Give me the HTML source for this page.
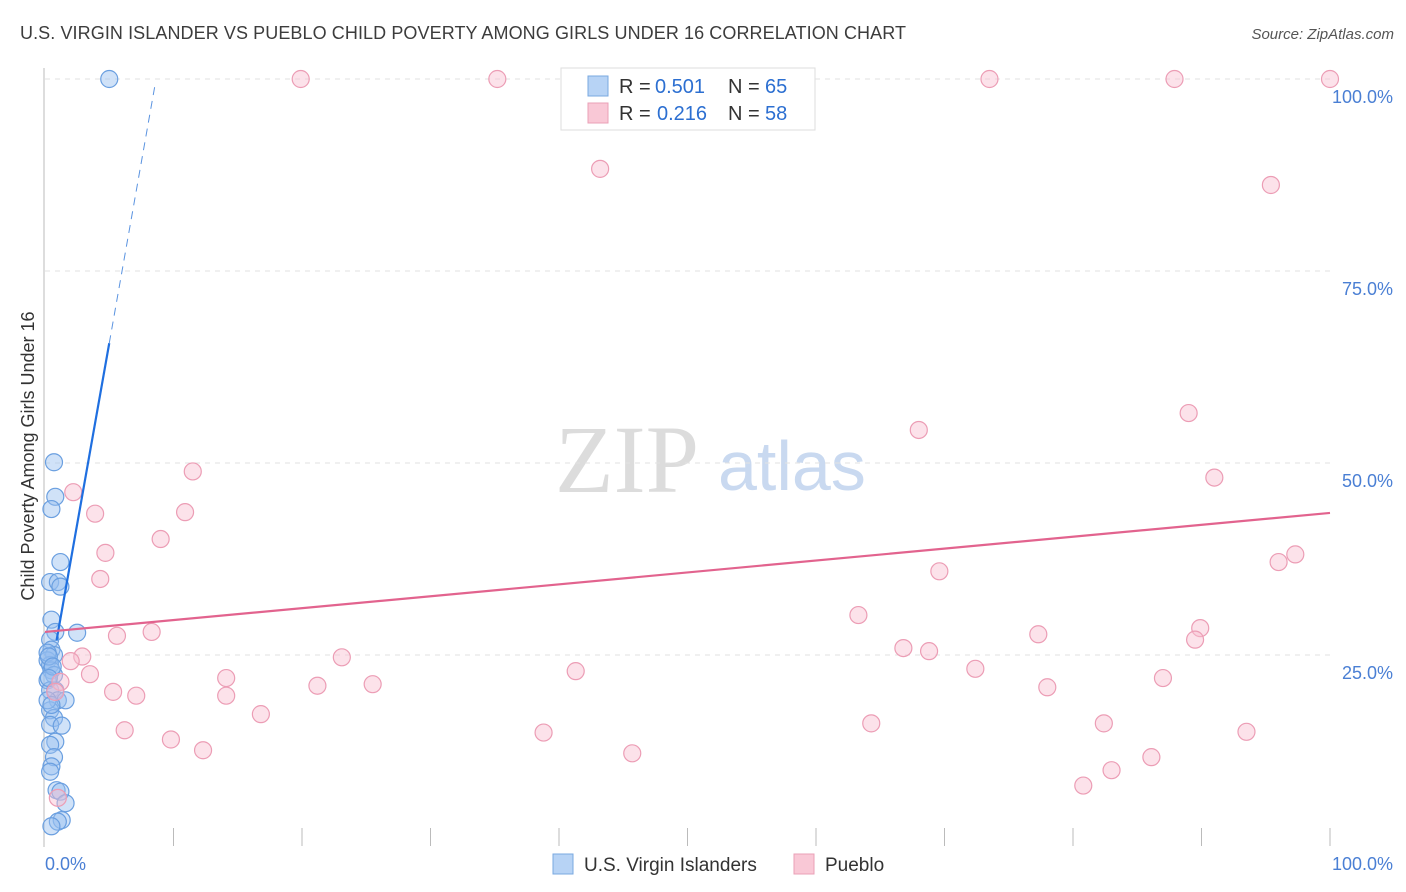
<!DOCTYPE html>
<html><head><meta charset="utf-8"><style>
body{margin:0;background:#fff;font-family:"Liberation Sans",sans-serif;}
svg{display:block}
</style></head><body>
<svg id="chart" width="1406" height="892">
<text x="20" y="39" font-size="18" fill="#3c3c3c" textLength="886">U.S. VIRGIN ISLANDER VS PUEBLO CHILD POVERTY AMONG GIRLS UNDER 16 CORRELATION CHART</text>
<text x="1394" y="39" font-size="15" fill="#555" font-style="italic" text-anchor="end">Source: ZipAtlas.com</text>
<text x="555" y="492" font-size="96" fill="#dcdcdc" font-family="Liberation Serif,serif">ZIP</text>
<text x="718" y="490" font-size="70" fill="#c9d9f0">atlas</text>
<text transform="translate(34,456) rotate(-90)" font-size="18" fill="#333" text-anchor="middle">Child Poverty Among Girls Under 16</text>
<g id="grid"></g><g id="ticks"></g><g id="pts"></g><g id="lines"></g>
<g>
<rect x="561" y="68" width="254" height="62" fill="#fff" stroke="#ddd"/>
<rect x="588" y="76" width="20" height="20" fill="#b7d3f5" stroke="#7aa8e0"/>
<rect x="588" y="103" width="20" height="20" fill="#f9c8d6" stroke="#eaa0b7"/>
<text x="619" y="93" font-size="20" fill="#333">R =</text><text x="655" y="93" font-size="20" fill="#2c6fd1">0.501</text>
<text x="728" y="93" font-size="20" fill="#333">N =</text><text x="765" y="93" font-size="20" fill="#2c6fd1">65</text>
<text x="619" y="120" font-size="20" fill="#333">R =</text><text x="657" y="120" font-size="20" fill="#2c6fd1">0.216</text>
<text x="728" y="120" font-size="20" fill="#333">N =</text><text x="765" y="120" font-size="20" fill="#2c6fd1">58</text>
</g>
<g>
<rect x="553" y="854" width="20" height="20" fill="#b7d3f5" stroke="#7aa8e0"/>
<text x="584" y="871" font-size="19" fill="#333">U.S. Virgin Islanders</text>
<rect x="794" y="854" width="20" height="20" fill="#f9c8d6" stroke="#eaa0b7"/>
<text x="825" y="871" font-size="19" fill="#333">Pueblo</text>
</g>
<text x="45" y="870" font-size="18" fill="#4a7fd4">0.0%</text>
<text x="1393" y="870" font-size="18" fill="#4a7fd4" text-anchor="end">100.0%</text>
</svg>
<script>
const yTicks=[100,75,50,25];
const blueX=[5,0.7,0.8,0.5,1.2,0.4,1,1.2,0.5,0.8,2.5,0.4,0.5,0.7,0.2,0.4,0.5,0.7,0.2,0.4,0.8,1,1.6,0.4,0.7,0.4,1.3,0.8,0.4,0.7,0.5,0.4,0.9,1.2,1.6,1.3,1,0.5,0.2,0.2,0.3,0.6,0.3,0.5];
const blueY=[100,50.1,45.6,44,37.1,34.5,34.5,33.9,29.6,28,27.9,27,25.7,25,24.3,23.7,23,22.4,21.7,20.4,20.4,19.1,19.1,17.8,16.8,15.9,15.8,13.7,13.3,11.7,10.5,9.8,7.4,7.2,5.7,3.5,3.3,2.7,25.3,19.1,24.8,23.5,22,18.5];
const pinkX=[19.9,35.2,73.5,87.9,100,43.2,95.4,89,68,91,11.5,2.2,3.9,10.9,9,4.7,97.3,96,4.3,69.6,63.3,89.9,89.5,77.3,8.3,5.6,2.9,2,66.8,68.8,23.1,41.3,72.4,3.5,14.1,87,21.2,25.5,5.3,7.1,1.2,0.8,14.1,78,82.4,64.3,16.8,38.8,93.5,6.2,9.8,12.3,86.1,45.7,83,80.8,1];
const pinkY=[100,100,100,100,100,88.3,86.2,56.5,54.3,48.1,48.9,46.2,43.4,43.6,40.1,38.3,38.1,37.1,34.9,35.9,30.2,28.5,27,27.7,28,27.5,24.8,24.2,25.9,25.5,24.7,22.9,23.2,22.5,22,22,21,21.2,20.2,19.7,21.5,20.2,19.7,20.8,16.1,16.1,17.3,14.9,15,15.2,14,12.6,11.7,12.2,10,8,6.4];
const blueSlope=9.44, blueIntercept=18.4, blueSolidStart=0.9, blueSolidEnd=5, blueDashEnd=8.6;
const pinkSlope=15.5, pinkIntercept=28;
const X=v=>45+v*12.85, Y=v=>847-v*7.68;
const ns="http://www.w3.org/2000/svg";
function mk(tag,attrs,parent){const e=document.createElementNS(ns,tag);for(const k in attrs)e.setAttribute(k,attrs[k]);document.getElementById(parent).appendChild(e);return e;}
yTicks.forEach(t=>{
 const g=mk('line',{x1:45,x2:1330,y1:Y(t),y2:Y(t),stroke:'#e2e2e2','stroke-dasharray':'5,5'},'grid');
 
 
 const tx=mk('text',{x:1393,y:Y(t)+24,'font-size':18,fill:'#4a7fd4','text-anchor':'end'},'grid');
 tx.textContent=t.toFixed(1)+'%';
 
 
});
const ax=mk('line',{x1:44,x2:44,y1:68,y2:847,stroke:'#bbb'},'ticks');


for(let i=1;i<=10;i++){const l=mk('line',{x1:X(i*10),x2:X(i*10),y1:828,y2:846,stroke:'#bbb'},'ticks');
 
 }
blueX.forEach((v,i)=>{const c=mk('circle',{cx:X(v),cy:Y(blueY[i]),r:8.5,fill:'rgba(150,190,240,0.45)',stroke:'#6a9fe0','stroke-width':1.2},'pts');
 
 });
pinkX.forEach((v,i)=>{const c=mk('circle',{cx:X(v),cy:Y(pinkY[i]),r:8.5,fill:'rgba(248,190,208,0.45)',stroke:'#ec9db5','stroke-width':1.2},'pts');
 
 });
const bY=v=>blueIntercept+blueSlope*v;
const l1=mk('line',{x1:X(blueSolidStart),y1:Y(bY(blueSolidStart)),x2:X(blueSolidEnd),y2:Y(bY(blueSolidEnd)),stroke:'#1f6fe0','stroke-width':2.2},'lines');


const l2=mk('line',{x1:X(blueSolidEnd),y1:Y(bY(blueSolidEnd)),x2:X(blueDashEnd),y2:Y(bY(blueDashEnd)),stroke:'#5a93e0','stroke-width':1,'stroke-dasharray':'8,6'},'lines');


const l3=mk('line',{x1:X(0),y1:Y(pinkIntercept),x2:X(100),y2:Y(pinkIntercept+pinkSlope),stroke:'#e2638e','stroke-width':2.2},'lines');


</script>
</body></html>
